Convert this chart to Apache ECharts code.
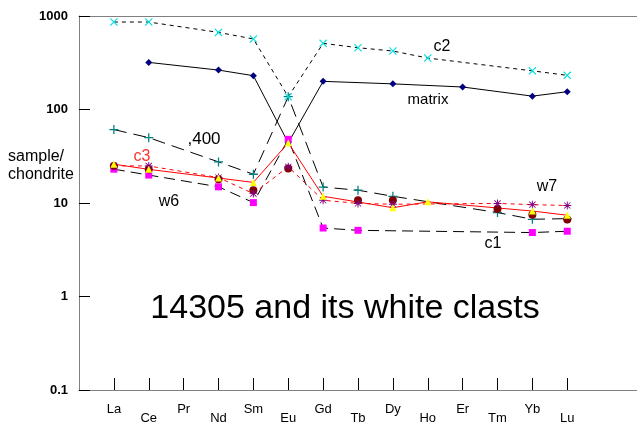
<!DOCTYPE html>
<html>
<head>
<meta charset="utf-8">
<title>14305 and its white clasts</title>
<script src="https://cdn.jsdelivr.net/npm/echarts@6/dist/echarts.min.js"></script>
<style>
  html, body { margin: 0; padding: 0; background: #fff; }
  #chart { width: 637px; height: 430px; }
</style>
</head>
<body>
<div id="chart"></div>
<script>
// REE elements, chondrite normalised
var elements = ['La', 'Ce', 'Pr', 'Nd', 'Sm', 'Eu', 'Gd', 'Tb', 'Dy', 'Ho', 'Er', 'Tm', 'Yb', 'Lu'];
var yTicks = [0.1, 1, 10, 100, 1000];

var c2     = [862, 862, null, 668, 568, 137, 510, 458, 422, 355, null, null, 259, 232];
var matrix = [null, 319, null, 264, 230, 44, 200, null, 188, null, 174, null, 139, 155];
var s400   = [61, 50, null, 27.5, 20.3, 137, 14.8, 13.7, 11.8, null, null, 7.9, 6.7, 6.8];
var c1     = [23, 19.9, null, 14.9, 10.1, 48, 5.4, 5.1, null, null, null, null, 4.83, 4.99];
var c3     = [26, 22.9, null, 18.5, 16.6, 44, 11.8, null, 8.9, 10.3, null, null, 8.2, 7.4];
var w7     = [25, 24.9, null, 18.7, 12.6, 24.4, 10.7, 9.9, 9.7, null, null, 9.9, 9.6, 9.4];
var w6     = [24.9, 22.9, null, 17.9, 13.7, 23.4, null, 10.7, 10.7, null, null, 8.6, 7.5, 6.65];

var FONT = '"Liberation Sans", Arial, sans-serif';

// element i sits at x = i + 1 on a 0..16 axis
function pairs(vals) {
    var out = [];
    for (var i = 0; i < vals.length; i++) {
        if (vals[i] != null) out.push([i + 1, vals[i]]);
    }
    return out;
}

var xSym = 'path://M0,1L1,0L5,4L9,0L10,1L6,5L10,9L9,10L5,6L1,10L0,9L4,5Z';
var plusSym = 'path://M4.3,0H5.7V4.3H10V5.7H5.7V10H4.3V5.7H0V4.3H4.3Z';
var starSym = 'path://M4.4,0H5.6V3.6L8.6,0.8L9.3,1.6L6.3,4.4H10V5.6H6.3L9.3,8.4L8.6,9.2L5.6,6.4V10H4.4V6.4L1.4,9.2L0.7,8.4L3.7,5.6H0V4.4H3.7L0.7,1.6L1.4,0.8L4.4,3.6Z';

function line(name, vals, sym, size, color, lineColor, dash, showLine) {
    return {
        name: name,
        type: 'line',
        data: pairs(vals),
        symbol: sym,
        symbolSize: size,
        showSymbol: true,
        itemStyle: { color: color },
        lineStyle: {
            color: lineColor,
            width: 1,
            type: dash,
            opacity: showLine === false ? 0 : 1
        },
        z: 3
    };
}

function label(txt, x, y, size, color, align) {
    return {
        type: 'text', x: x, y: y,
        style: {
            text: txt, font: size + 'px ' + FONT, fill: color || '#000',
            align: align || 'center', verticalAlign: 'middle'
        }
    };
}

var chart = echarts.init(document.getElementById('chart'));

var tickVals = elements.map(function (e, i) { return i + 1; });

chart.setOption({
    animation: false,
    grid: { left: 79, right: 0, top: 16, bottom: 40 },
    xAxis: [{
        type: 'value',
        min: 0,
        max: 16,
        axisLine: { lineStyle: { color: '#808080', width: 1 } },
        axisTick: {
            inside: true,
            length: 12,
            customValues: tickVals,
            lineStyle: { color: '#000' }
        },
        axisLabel: {
            customValues: tickVals,
            margin: 13,
            color: '#000',
            fontFamily: FONT,
            fontSize: 13,
            formatter: function (v) {
                var i = Math.round(v) - 1;
                if (i < 0 || i >= elements.length) return '';
                return (i % 2 === 1 ? '{lo|' : '{hi|') + elements[i] + '}';
            },
            rich: {
                hi: { fontFamily: FONT, fontSize: 13, color: '#000' },
                lo: { fontFamily: FONT, fontSize: 13, color: '#000', padding: [9, 0, 0, 0] }
            }
        },
        splitLine: { show: false }
    }, {
        type: 'value',
        position: 'top',
        min: 0,
        max: 16,
        axisLine: { show: true, lineStyle: { color: '#808080', width: 1 } },
        axisTick: { show: false },
        axisLabel: { show: false },
        splitLine: { show: false }
    }],
    yAxis: {
        type: 'log',
        logBase: 10,
        min: 0.1,
        max: 1000,
        axisLine: { show: true, lineStyle: { color: '#808080', width: 1 } },
        axisTick: { inside: true, length: 11, lineStyle: { color: '#000' } },
        axisLabel: {
            margin: 11,
            color: '#000',
            fontFamily: FONT,
            fontSize: 13,
            fontWeight: 'bold',
            formatter: function (v) {
                for (var k = 0; k < yTicks.length; k++) {
                    if (Math.abs(v - yTicks[k]) / yTicks[k] < 1e-6) return String(yTicks[k]);
                }
                return '';
            }
        },
        splitLine: { show: false },
        minorTick: { show: false }
    },
    series: [
        line(',400', s400, plusSym, 9, '#008080', '#000', [13, 7]),
        line('c2', c2, xSym, 8, '#00e0e0', '#000', [4, 4]),
        line('matrix', matrix, 'diamond', 7, '#000080', '#000', 'solid'),
        line('c1', c1, 'rect', 7, '#ff00ff', '#000', [11, 6]),
        line('w6', w6, 'circle', 8, '#800000', '#800000', 'solid', false),
        line('w7', w7, starSym, 8, '#800080', '#ff0000', [4, 4]),
        line('c3', c3, 'triangle', 7, '#ffff00', '#ff0000', 'solid')
    ],
    graphic: [
        label('sample/', 8, 157, 16, '#000', 'left'),
        label('chondrite', 8, 175, 16, '#000', 'left'),
        label('c2', 442, 47, 16),
        label('matrix', 428, 100, 15),
        label(',400', 204, 139, 17),
        label('c3', 142, 157, 16, '#ff3030'),
        label('w6', 169, 202, 16),
        label('w7', 547, 187, 16),
        label('c1', 493, 244, 16),
        label('14305 and its white clasts', 345, 309, 34)
    ]
});
</script>
</body>
</html>
